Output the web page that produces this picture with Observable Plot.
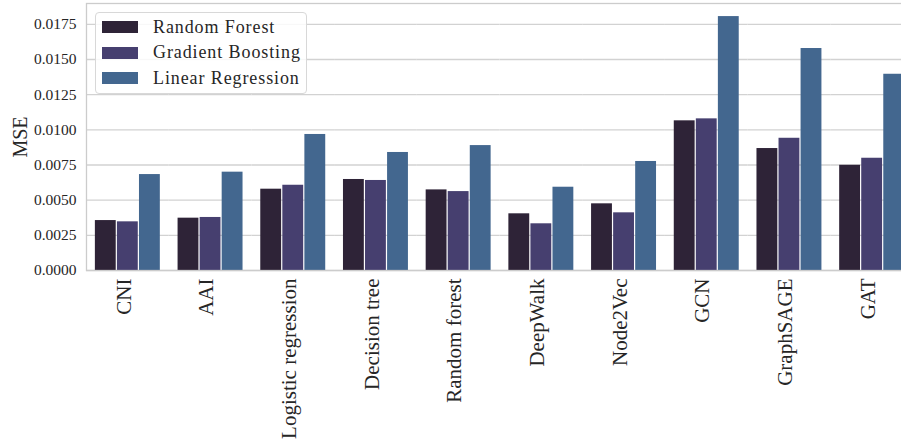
<!DOCTYPE html>
<html><head><meta charset="utf-8">
<script src="https://cdn.jsdelivr.net/npm/d3@7"></script>
<script src="https://cdn.jsdelivr.net/npm/@observablehq/plot@0.6"></script>
<style>
body{margin:0;overflow:hidden;background:#fff;}
#wrap{position:relative;width:914px;height:443px;}
.legend{position:absolute;left:95px;top:12px;width:212px;height:82px;border:1px solid #d8d8d8;border-radius:4px;background:rgba(255,255,255,0.85);font-family:"Liberation Serif",serif;font-size:18px;color:#262626;box-sizing:border-box;}
.row{position:absolute;left:6px;height:20px;display:flex;align-items:center;white-space:nowrap;letter-spacing:0.9px;}
.sw{width:36px;height:12px;margin-right:15px;flex:none;}
.ylab{position:absolute;left:20px;top:137px;transform:translate(-50%,-50%) rotate(-90deg);font-family:"Liberation Serif",serif;font-size:20px;color:#262626;white-space:nowrap;}
</style></head>
<body>
<div id="wrap"></div>
<script>
const categories = ["CNI","AAI","Logistic regression","Decision tree","Random forest","DeepWalk","Node2Vec","GCN","GraphSAGE","GAT"];
const series = ["Random Forest","Gradient Boosting","Linear Regression"];
const randomForest = [0.00355,0.00372,0.00578,0.00647,0.00573,0.00403,0.00474,0.01064,0.00867,0.00748];
const gradientBoosting = [0.00346,0.00377,0.00606,0.00640,0.00561,0.00332,0.00410,0.01078,0.00940,0.00798];
const linearRegression = [0.00682,0.00699,0.00967,0.00839,0.00888,0.00592,0.00775,0.01805,0.01578,0.01395];
const yTicks = [0,0.0025,0.005,0.0075,0.01,0.0125,0.015,0.0175];
const colors = ["#2e2337","#463f6f","#43678f"];

const seriesValues = [randomForest, gradientBoosting, linearRegression];
const data = categories.flatMap((c, i) => series.map((s, j) => ({category: c, model: s, mse: seriesValues[j][i]})));

const chart = Plot.plot({
  width: 914, height: 443,
  marginLeft: 86, marginRight: 1, marginTop: 3, marginBottom: 173,
  style: {fontFamily: "'Liberation Serif', serif", background: "white", color: "#262626", overflow: "visible"},
  fx: {domain: categories, paddingInner: 0, paddingOuter: 0, round: false, label: null},
  x: {domain: series, paddingInner: 0, paddingOuter: 0.375, round: false, axis: null},
  y: {domain: [0, 0.01898], label: null},
  color: {domain: series, range: colors},
  marks: [
    Plot.ruleY(yTicks, {stroke: "#d2d2d2", strokeWidth: 1.3}),
    Plot.barY(data, {fx: "category", x: "model", y: "mse", fill: "model", insetLeft: 0.6, insetRight: 0.6}),
    Plot.frame({stroke: "#cccccc", strokeWidth: 1.3, facet: "super"}),
    Plot.axisY(yTicks, {tickFormat: d3.format(".4f"), tickSize: 0, tickPadding: 10, fontSize: 15.5, label: null}),
    Plot.axisFx({anchor: "bottom", tickRotate: -90, tickSize: 0, tickPadding: 8, fontSize: 21, dx: -4, label: null})
  ]
});
const wrap = document.getElementById("wrap");
wrap.appendChild(chart);

const yl = document.createElement("div");
yl.className = "ylab"; yl.textContent = "MSE";
wrap.appendChild(yl);

const leg = document.createElement("div");
leg.className = "legend";
series.forEach((s, j) => {
  const r = document.createElement("div");
  r.className = "row";
  r.style.top = (4 + j * 25.5) + "px";
  const sw = document.createElement("div");
  sw.className = "sw"; sw.style.background = colors[j];
  const t = document.createElement("span"); t.textContent = s;
  r.appendChild(sw); r.appendChild(t);
  leg.appendChild(r);
});
wrap.appendChild(leg);
</script>
</body></html>
